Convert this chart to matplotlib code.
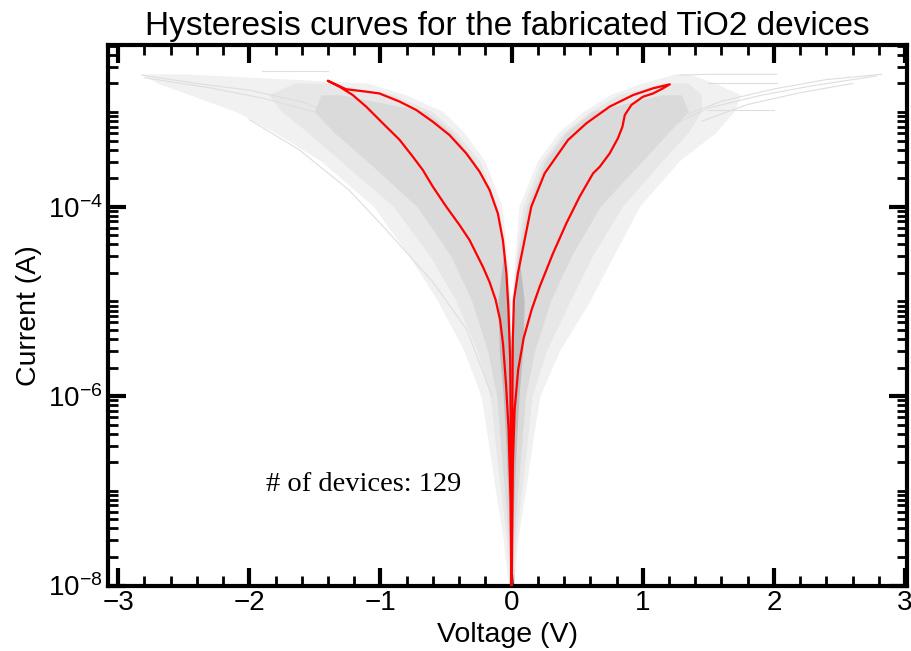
import matplotlib
matplotlib.use("Agg")
from matplotlib import pyplot as plt
from matplotlib.ticker import FixedLocator, NullFormatter

plt.rcParams['font.family'] = ['Liberation Sans', 'DejaVu Sans']
plt.rcParams['mathtext.default'] = 'regular'

# red device: negative loop (up branch, then back down) and positive loop
red_neg_up_v = [-0.0015, -0.005, -0.011, -0.025, -0.040, -0.066, -0.105, -0.168, -0.244,
                -0.346, -0.473, -0.601, -0.727, -0.855, -1.008, -1.109, -1.262, -1.402]
red_neg_up_i = [1.0e-8, 2.7e-7, 2.4e-6, 8.8e-6, 2.0e-5, 4.4e-5, 8.5e-5, 1.5e-4, 2.34e-4,
                3.66e-4, 5.7e-4, 7.9e-4, 1.05e-3, 1.29e-3, 1.57e-3, 1.64e-3, 1.74e-3, 2.14e-3]
red_neg_dn_v = [-1.402, -1.313, -1.211, -1.109, -0.982, -0.855, -0.753, -0.677, -0.601, -0.498,
                -0.397, -0.321, -0.219, -0.168, -0.122, -0.088, -0.065, -0.042, -0.023, -0.008, -0.002]
red_neg_dn_i = [2.14e-3, 1.85e-3, 1.51e-3, 1.14e-3, 7.6e-4, 5.1e-4, 3.37e-4, 2.44e-4, 1.63e-4, 1.0e-4,
                6.4e-5, 4.45e-5, 2.32e-5, 1.6e-5, 1.04e-5, 6.4e-6, 3.5e-6, 1.3e-6, 4.4e-7, 8.0e-8, 1.0e-8]
red_pos_up_v = [0.0015, 0.003, 0.006, 0.009, 0.018, 0.048, 0.150, 0.252, 0.430, 0.570,
                0.748, 0.926, 1.079, 1.206]
red_pos_up_i = [1.0e-8, 1.3e-7, 9.1e-7, 3.9e-6, 1.04e-5, 1.98e-5, 1.0e-4, 2.25e-4, 5.06e-4, 7.6e-4,
                1.14e-3, 1.51e-3, 1.78e-3, 1.96e-3]
red_pos_dn_v = [1.206, 1.155, 1.079, 1.002, 0.914, 0.863, 0.845, 0.811, 0.748, 0.672, 0.621,
                0.519, 0.418, 0.315, 0.214, 0.153, 0.092, 0.050, 0.023, 0.008, 0.0015]
red_pos_dn_i = [1.96e-3, 1.78e-3, 1.57e-3, 1.45e-3, 1.19e-3, 9.3e-4, 7.0e-4, 5.3e-4, 3.66e-4, 2.64e-4, 2.25e-4,
                1.28e-4, 6.7e-5, 3.2e-5, 1.43e-5, 8.2e-6, 4.1e-6, 1.9e-6, 7.2e-7, 1.6e-7, 1.0e-8]

# the other 128 devices, read as bundle edges (voltage at each current level)
i_levels = [1e-8, 3e-8, 1e-7, 3e-7, 1e-6, 3e-6, 1e-5, 3e-5, 1e-4, 3e-4, 6e-4, 1e-3, 1.5e-3, 2e-3, 2.5e-3]
# faint: every device
faint_out_l = [-0.02, -0.06, -0.12, -0.17, -0.23, -0.36, -0.56, -0.78, -1.05, -1.45, -1.8, -2.1, -2.45, -2.7, -2.82]
faint_in_l = [0, 0, 0, 0, 0, 0, -0.005, -0.03, -0.07, -0.2, -0.36, -0.52, -0.8, -1.1, -2.5]
faint_in_r = [0, 0, 0, 0, 0, 0, 0.005, 0.03, 0.06, 0.2, 0.36, 0.55, 0.75, 1.0, 1.25]
faint_out_r = [0.02, 0.05, 0.11, 0.16, 0.22, 0.37, 0.6, 0.78, 0.98, 1.28, 1.56, 1.7, 1.75, 1.55, 1.35]
# light: most devices
light_out_l = [-0.012, -0.035, -0.08, -0.12, -0.16, -0.26, -0.42, -0.62, -0.9, -1.3, -1.55, -1.75, -1.85, -1.65]
light_in_l = [0, 0, 0, 0, 0, 0, -0.01, -0.04, -0.1, -0.24, -0.42, -0.6, -0.9, -1.4]
light_in_r = [0, 0, 0, 0, 0, 0, 0.01, 0.04, 0.09, 0.23, 0.4, 0.6, 0.82, 1.15]
light_out_r = [0.012, 0.035, 0.08, 0.12, 0.16, 0.27, 0.45, 0.62, 0.85, 1.15, 1.35, 1.45, 1.45, 1.35]
# dense: bulk of the devices
dense_out_l = [-0.006, -0.02, -0.05, -0.08, -0.11, -0.18, -0.3, -0.46, -0.72, -1.1, -1.35, -1.5, -1.45]
dense_in_l = [0, 0, 0, 0, 0, 0, -0.015, -0.05, -0.12, -0.28, -0.45, -0.65, -1.3]
dense_in_r = [0, 0, 0, 0, 0, 0, 0.015, 0.05, 0.12, 0.26, 0.42, 0.62, 1.15]
dense_out_r = [0.006, 0.02, 0.05, 0.08, 0.11, 0.18, 0.3, 0.46, 0.68, 1.0, 1.2, 1.35, 1.3]
# stem where all curves pile up near 0 V
stem_out_l = [-0.003, -0.01, -0.025, -0.04, -0.06, -0.09, -0.1, -0.06]
stem_in_l = [0, 0, 0, 0, 0, 0, -0.03, -0.06]
stem_in_r = [0, 0, 0, 0, 0, 0, 0.03, 0.06]
stem_out_r = [0.003, 0.01, 0.025, 0.04, 0.06, 0.09, 0.1, 0.06]

# a few stray devices with wide sweeps
stray_v = [
    [-2.82, -2.4, -2.0, -1.6, -1.3],
    [-2.8, -2.3, -1.9, -1.5],
    [-2.0, -1.62, -1.24, -0.98, -0.6, -0.34, -0.15],
    [-1.9, -1.4],
    [2.82, 2.4, 2.0, 1.6, 1.3],
    [2.78, 2.3, 1.9, 1.5, 1.2],
    [2.6, 2.2, 1.8, 1.45],
    [2.02, 1.5, 1.28],
    [2.02, 1.5],
    [2.0, 1.5],
]
stray_i = [
    [2.45e-3, 2.0e-3, 1.7e-3, 1.28e-3, 9e-4],
    [2.3e-3, 1.8e-3, 1.4e-3, 1.0e-3],
    [8.3e-4, 4e-4, 1.5e-4, 6.2e-5, 1.6e-5, 5e-6, 1e-6],
    [2.7e-3, 2.7e-3],
    [2.5e-3, 2.2e-3, 1.75e-3, 1.3e-3, 9e-4],
    [2.4e-3, 1.9e-3, 1.5e-3, 1.1e-3, 7e-4],
    [2.0e-3, 1.6e-3, 1.2e-3, 8e-4],
    [2.5e-3, 2.5e-3, 2.45e-3],
    [2.0e-3, 2.0e-3],
    [1.05e-3, 1.05e-3],
]

n_devices = 129


def bundle(ax, out_l, in_l, in_r, out_r, color, z):
    g = i_levels[:len(out_l)]
    vs = out_l + in_l[::-1] + in_r + out_r[::-1]
    cs = g + g[::-1] + g + g[::-1]
    ax.fill(vs, cs, color=color, lw=0, zorder=z)


fig = plt.figure(figsize=(9.12, 6.51), dpi=100)
ax = fig.add_axes([0.118, 0.1006, 0.8766, 0.8303])
ax.set_yscale('log')

bundle(ax, faint_out_l, faint_in_l, faint_in_r, faint_out_r, '#f1f1f1', 1)
bundle(ax, light_out_l, light_in_l, light_in_r, light_out_r, '#e7e7e7', 2)
bundle(ax, dense_out_l, dense_in_l, dense_in_r, dense_out_r, '#dadada', 3)
bundle(ax, stem_out_l, stem_in_l, stem_in_r, stem_out_r, '#bdbdbd', 4)
for sv, si in zip(stray_v, stray_i):
    ax.plot(sv, si, color='#dedede', lw=0.8, zorder=2)

ax.plot(red_neg_up_v + red_neg_dn_v, red_neg_up_i + red_neg_dn_i, color='red', lw=1.6, zorder=5)
ax.plot(red_pos_up_v + red_pos_dn_v, red_pos_up_i + red_pos_dn_i, color='red', lw=1.6, zorder=5)

ax.set_xlim(-3.08, 3.015)
ax.set_ylim(1e-8, 5.1e-3)

# ticks
ax.set_xticks(range(-3, 4))
ax.xaxis.set_minor_locator(FixedLocator([x / 5 for x in range(-15, 16)]))
ax.yaxis.set_major_locator(FixedLocator([1e-8, 1e-6, 1e-4]))
ax.set_yticklabels(['$10^{-8}$', '$10^{-6}$', '$10^{-4}$'])
minors = [k * 10.0 ** e for e in range(-8, -2) for k in range(1, 10)]
ax.yaxis.set_minor_locator(FixedLocator(minors))
ax.yaxis.set_minor_formatter(NullFormatter())
ax.tick_params(which='major', direction='in', length=13, width=3, top=True, right=True, labelsize=20)
ax.tick_params(which='minor', direction='in', length=7, width=2, top=True, right=True)
for s in ax.spines.values():
    s.set_linewidth(3)

ax.set_xlabel("Voltage (V)", fontsize=20.5)
ax.set_ylabel("Current (A)", fontsize=20.5)
ax.set_title("Hysteresis curves for the fabricated TiO2 devices", fontsize=24, pad=7)

ax.text(-1.87, 1.0e-7, "# of devices: %d" % n_devices, fontsize=20.5,
        family=['Liberation Serif', 'DejaVu Serif'])

plt.savefig("out.png")
